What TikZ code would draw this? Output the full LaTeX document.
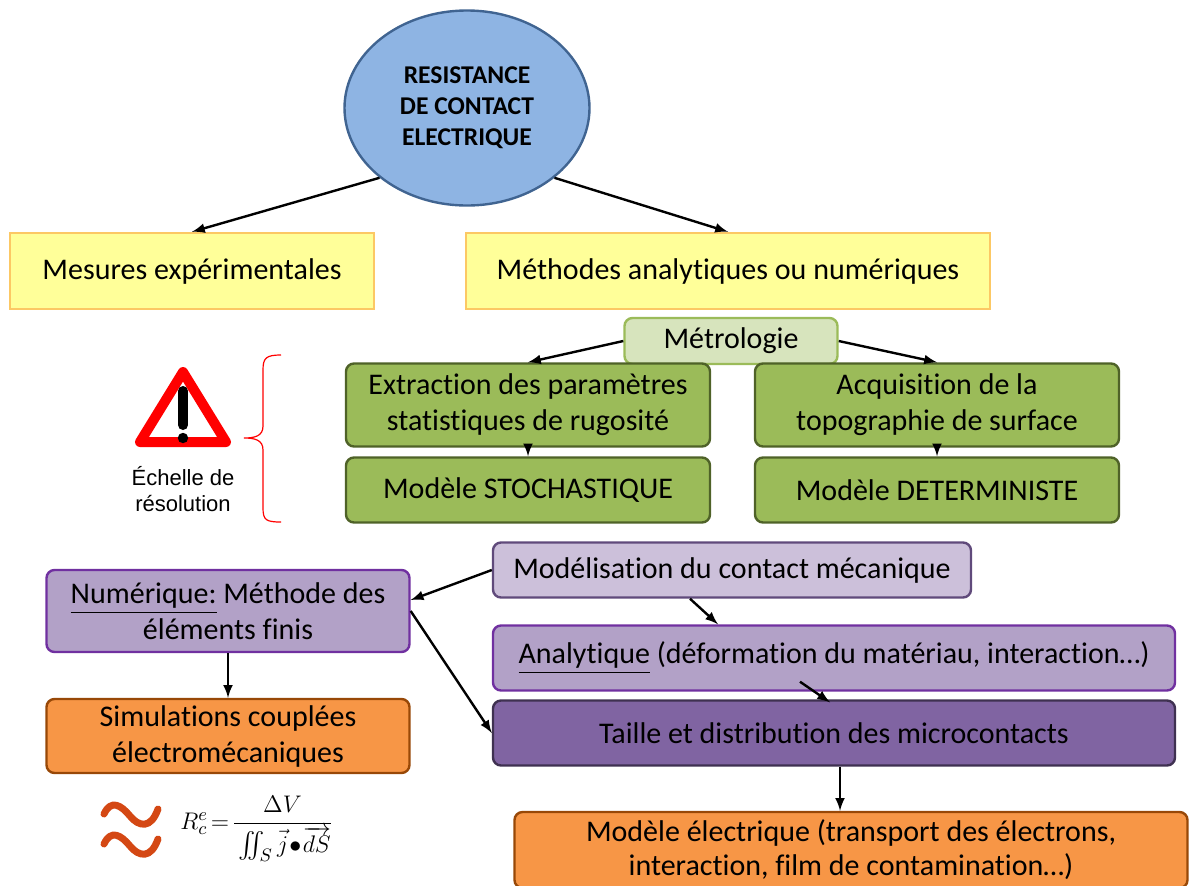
\documentclass[tikz,border=0pt]{standalone}
\usepackage{fontspec}
\usepackage{amsmath}
\usepackage{amssymb}
\setmainfont{Carlito}[Ligatures=NoCommon]
\newfontfamily\arialfont{Liberation Sans}
\usetikzlibrary{shapes,arrows,positioning}

\definecolor{bluefill}{RGB}{142,180,227}
\definecolor{blueline}{RGB}{64,100,145}
\definecolor{yfill}{RGB}{255,255,153}
\definecolor{yline}{RGB}{252,200,100}
\definecolor{lgfill}{RGB}{215,228,189}
\definecolor{lgline}{RGB}{155,187,89}
\definecolor{gfill}{RGB}{155,187,89}
\definecolor{gline}{RGB}{79,98,40}
\definecolor{pfill}{RGB}{178,161,199}
\definecolor{pline}{RGB}{112,48,160}
\definecolor{lpfill}{RGB}{204,192,218}
\definecolor{lpline}{RGB}{96,74,123}
\definecolor{dpfill}{RGB}{128,100,162}
\definecolor{dpline}{RGB}{63,49,81}
\definecolor{ofill}{RGB}{247,150,70}
\definecolor{oline}{RGB}{152,72,7}
\definecolor{wavecol}{RGB}{212,72,20}

\begin{document}
\begin{tikzpicture}[x=0.5pt,y=-0.5pt,
  box/.style={draw,line width=1.2pt,align=center,inner sep=2pt,font=\fontsize{15}{18}\selectfont},
  ybox/.style={box,draw=yline,fill=yfill,minimum height=38pt},
  gbox/.style={box,rounded corners=4pt,draw=gline,fill=gfill,minimum width=182pt},
  pbox/.style={box,rounded corners=4pt,draw=pline,fill=pfill},
  obox/.style={box,rounded corners=4pt,draw=oline,fill=ofill},
  arr/.style={-latex,line width=1.2pt}]
  \useasboundingbox (0,0) rectangle (1192,885);

  \node[ellipse,draw=blueline,fill=bluefill,line width=1.2pt,minimum width=122.5pt,minimum height=97.5pt,
    align=center,font=\bfseries\fontsize{12.8}{15.5}\selectfont] (res) at (467,108) {RESISTANCE\\DE CONTACT\\ELECTRIQUE};

  \node[ybox,minimum width=182pt] (mes) at (192,271) {Mesures expérimentales};
  \node[ybox,minimum width=262pt] (meth) at (728,271) {Méthodes analytiques ou numériques};

  \node[box,rounded corners=4pt,draw=lgline,fill=lgfill,minimum width=106.5pt,minimum height=23pt] (metro) at (731,341) {Métrologie};
  \node[gbox,minimum height=41.5pt] (extr) at (528,405) {Extraction des paramètres\\statistiques de rugosité};
  \node[gbox,minimum height=41.5pt] (acq) at (937,405) {Acquisition de la\\topographie de surface};
  \node[gbox,minimum height=32.5pt] (stoch) at (528,490) {Modèle STOCHASTIQUE};
  \node[gbox,minimum height=32.5pt] (determ) at (937,490) {Modèle DETERMINISTE};

  % echelle de resolution
  \draw[red,line width=5pt,line join=round,fill=white] (183,372) -- (226,442) -- (140,442) -- cycle;
  \draw[line width=5pt,line cap=round] (183,391) -- (183,425);
  \fill (183,438) circle (2.6pt);
  \node[font=\arialfont\fontsize{11}{13}\selectfont,align=center] (ech) at (183,489) {Échelle de\\résolution};
  \draw[red,line width=0.6pt] (281,355) .. controls (266,355) and (263,358) .. (263,370) -- (263,426)
    .. controls (263,436) and (255,438) .. (244,438) .. controls (255,438) and (263,440) .. (263,450)
    -- (263,508) .. controls (263,520) and (266,522) .. (281,522);

  \node[pbox,minimum width=181.5pt,minimum height=41pt] (num) at (228,611) {\underline{Numérique:} Méthode des\\éléments finis};
  \node[obox,minimum width=181.5pt,minimum height=37pt] (simu) at (228,736) {Simulations couplées\\électromécaniques};
  \node[box,rounded corners=4pt,draw=lpline,fill=lpfill,minimum width=239pt,minimum height=27.5pt] (modmeca) at (732,570) {Modélisation du contact mécanique};
  \node[pbox,minimum width=341pt,minimum height=32.5pt] (analyt) at (834,658) {\underline{Analytique} (déformation du matériau, interaction…)};
  \node[box,rounded corners=4pt,draw=dpline,fill=dpfill,minimum width=341pt,minimum height=32.5pt] (taille) at (834,733) {Taille et distribution des microcontacts};
  \node[obox,minimum width=336.5pt,minimum height=38pt,font=\fontsize{15}{17}\selectfont] (elec) at (851,850) {Modèle électrique (transport des électrons,\\interaction, film de contamination…)};

  % formule
  \draw[wavecol,line width=3.5pt,line cap=round] (104,814) .. controls (111,799) and (121,805) .. (130,816)
    .. controls (139,827) and (151,829) .. (158,809);
  \draw[wavecol,line width=3.5pt,line cap=round] (104,844) .. controls (111,829) and (121,835) .. (130,846)
    .. controls (139,857) and (151,859) .. (158,839);
  \node[font=\fontsize{13}{15}\selectfont,inner sep=0pt,anchor=west] (form) at (180,829)
    {$R_c^e\!=\!\dfrac{\Delta V}{\rule{0pt}{12pt}\int\!\!\!\int_S\vec{j}\!\bullet\!\overrightarrow{dS}}$};

  \draw[arr] (res.south west) -- (mes.north);
  \draw[arr] (res.south east) -- (meth.north);
  \draw[arr] (metro.west) -- (extr.north);
  \draw[arr] (metro.east) -- (acq.north);
  \draw[arr] (extr.south) -- (stoch.north);
  \draw[arr] (acq.south) -- (determ.north);
  \draw[arr] (modmeca.west) -- ([yshift=5.5pt]num.east);
  \draw[arr] (num.east) -- (taille.west);
  \draw[arr] (num.south) -- (simu.north);
  \draw[arr] ([xshift=-21pt]modmeca.south) -- ([xshift=-58pt]analyt.north);
  \draw[arr] ([xshift=-17pt,yshift=5pt]analyt.south) -- ([xshift=-2pt,yshift=-1.5pt]taille.north);
  \draw[arr] ([xshift=3pt]taille.south) -- ([xshift=3pt]taille.south |- elec.north);
\end{tikzpicture}
\end{document}
